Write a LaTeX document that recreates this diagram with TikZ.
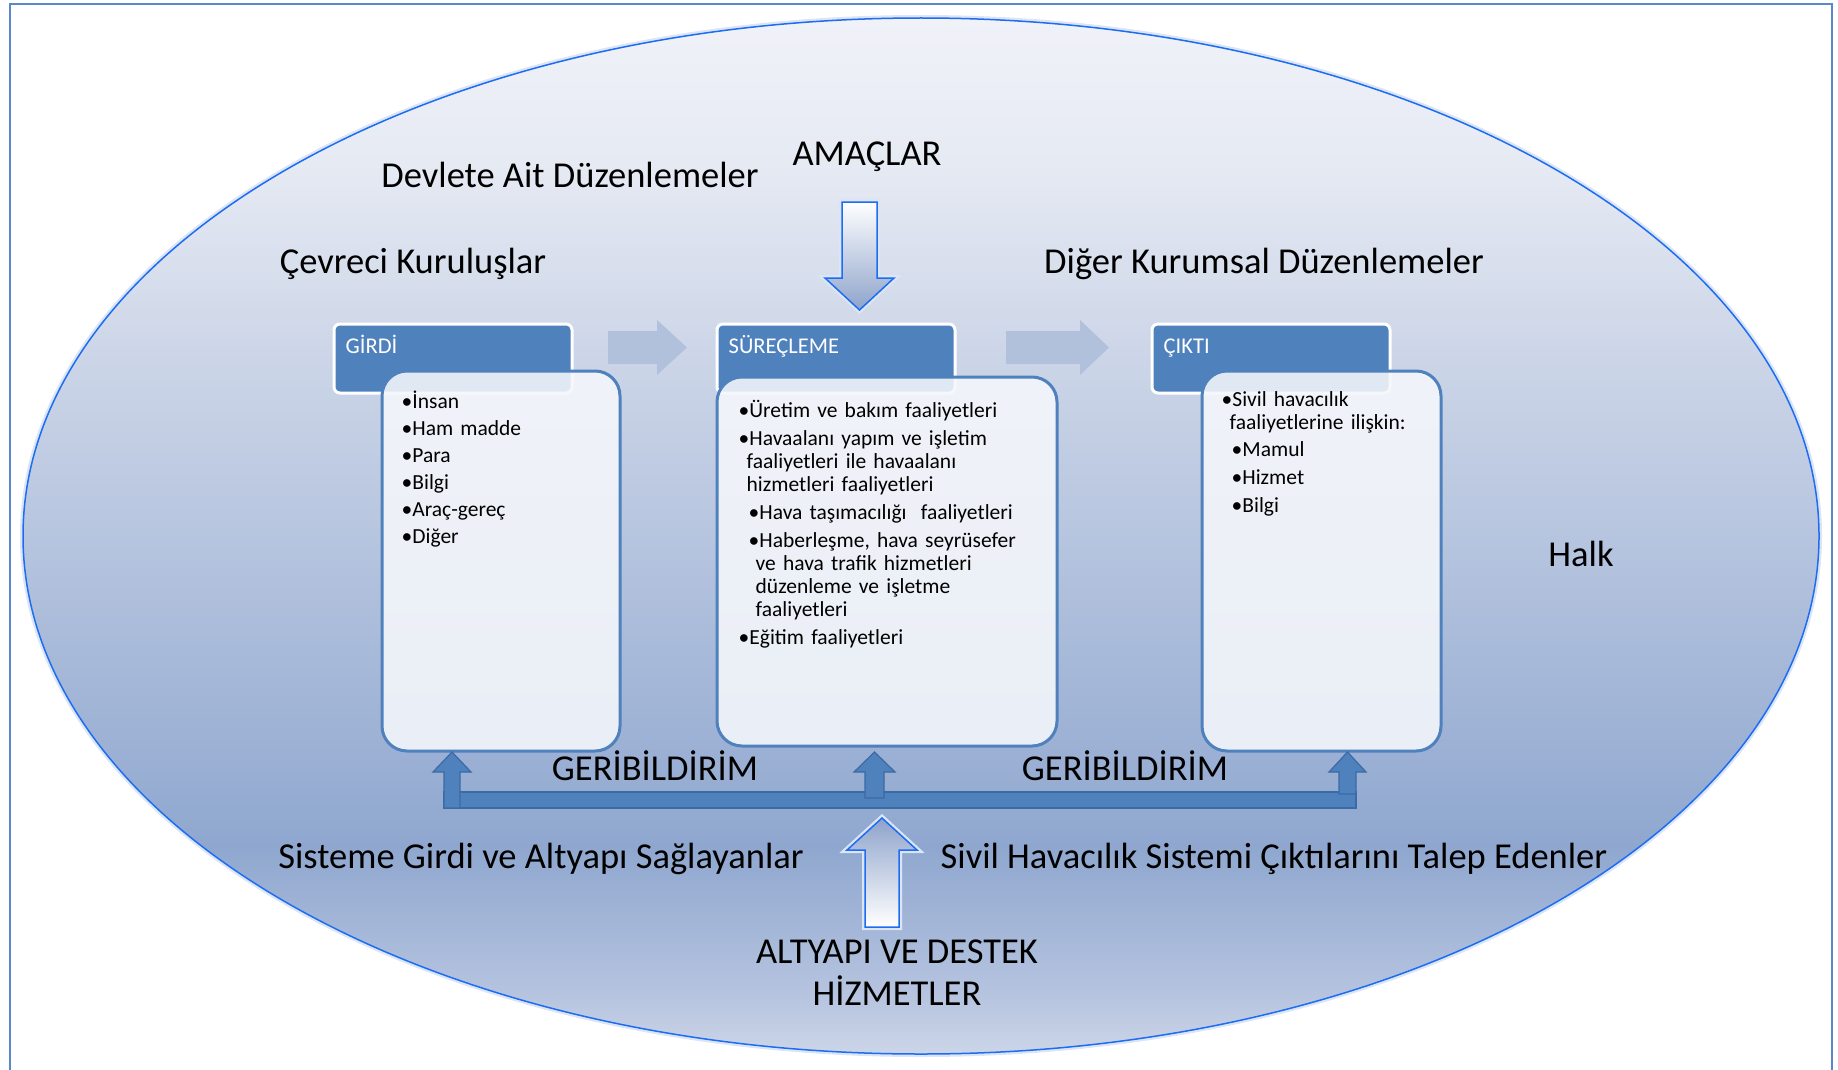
\documentclass[tikz,border=0pt]{standalone}
\usepackage{fontspec}
\setmainfont{Carlito}
\usetikzlibrary{positioning}

\definecolor{headblue}{HTML}{4F81BD}
\definecolor{bodyfill}{HTML}{F5F7FB}
\definecolor{frameblue}{HTML}{5A88C8}
\definecolor{ovalline}{HTML}{1C6DF2}
\definecolor{ovalglow}{HTML}{DCE5F5}
\definecolor{greyarrow}{HTML}{B1C1DC}
\definecolor{fbborder}{HTML}{3C6AA5}
\definecolor{goaldark}{HTML}{8EA3CB}
\definecolor{ovtop}{HTML}{F0F2F8}
\definecolor{ovhigh}{HTML}{E6EAF3}
\definecolor{ovupper}{HTML}{CDD6E8}
\definecolor{ovmid}{HTML}{B4C3DE}
\definecolor{ovlow}{HTML}{8FA7CF}
\definecolor{ovlower}{HTML}{B5C3DF}
\definecolor{ovbot}{HTML}{CCD5E8}
\pgfdeclareverticalshading{ovalshade}{100bp}{color(0bp)=(ovbot); color(25bp)=(ovbot); color(28bp)=(ovlower); color(35bp)=(ovlow); color(49bp)=(ovmid); color(59bp)=(ovupper); color(68bp)=(ovhigh); color(75bp)=(ovtop); color(100bp)=(ovtop)}

\begin{document}
\begin{tikzpicture}[x=1pt, y=-1pt,
  headbox/.style = {draw=white, line width=3pt, fill=headblue, rounded corners=6pt, minimum width=238pt, minimum height=69pt},
  bodybox/.style = {draw=headblue, line width=3pt, fill=bodyfill, fill opacity=0.88, rounded corners=25pt, anchor=north west},
  headtext/.style = {text=white, anchor=base west, inner sep=0pt, font=\fontsize{22.5}{26}\selectfont},
  listtext/.style = {anchor=north west, align=left, inner sep=0pt, font=\fontsize{21.5}{23}\selectfont},
  bigtext/.style = {anchor=base, inner sep=0pt, font=\fontsize{36.5}{42}\selectfont},
  greyarrow/.style = {fill=greyarrow},
  fbarrow/.style = {fill=headblue, draw=fbborder, line width=1.2pt},
  goalarrow/.style = {draw=ovalline, line width=1.5pt},
  glow/.style = {draw=ovalglow, line width=6pt}]
\useasboundingbox (0,0) rectangle (1838,1070);
\draw[frameblue, line width=2.5pt] (10,1075) -- (10,4) -- (1832,4) -- (1832,1075);
\draw[glow] (921,536) ellipse [x radius=898, y radius=518];
\draw[ovalline, line width=1.5pt, shading=ovalshade] (921,536) ellipse [x radius=898, y radius=518];

\node[bigtext] (devlet) at (570,187) {Devlete Ait Düzenlemeler};
\node[bigtext] (amaclar) at (867,165) {AMAÇLAR};
\node[bigtext] (cevreci) at (413,273) {Çevreci Kuruluşlar};
\node[bigtext] (diger) at (1264,273) {Diğer Kurumsal Düzenlemeler};
\node[bigtext] (halk) at (1581,566) {Halk};
\node[bigtext] (geri1) at (655,780) {GERİBİLDİRİM};
\node[bigtext] (geri2) at (1125,780) {GERİBİLDİRİM};
\node[bigtext] (saglayan) at (541,868) {Sisteme Girdi ve Altyapı Sağlayanlar};
\node[bigtext] (talep) at (1274,868) {Sivil Havacılık Sistemi Çıktılarını Talep Edenler};
\node[bigtext, align=center, anchor=north] (altyapi) at (897,940) {ALTYAPI VE DESTEK\\HİZMETLER};

\draw[glow] (842,202) -- (877,202) -- (877,278) -- (894,278) -- (859.5,310) -- (825,278) -- (842,278) -- cycle;
\draw[goalarrow, top color=white, bottom color=goaldark] (842,202) -- (877,202) -- (877,278) -- (894,278) -- (859.5,310) -- (825,278) -- (842,278) -- cycle;
\draw[glow] (865,927) -- (865,850) -- (847,850) -- (882,818) -- (917,850) -- (899,850) -- (899,927) -- cycle;
\draw[goalarrow, top color=goaldark, bottom color=white] (865,927) -- (865,850) -- (847,850) -- (882,818) -- (917,850) -- (899,850) -- (899,927) -- cycle;

\fill[greyarrow] (608,331) -- (657,331) -- (657,320) -- (687,347.5) -- (657,375) -- (657,364) -- (608,364) -- cycle;
\fill[greyarrow] (1006,331) -- (1080,331) -- (1080,320) -- (1109,347.5) -- (1080,375) -- (1080,364) -- (1006,364) -- cycle;

\node[headbox] (girdi head) at (453,358.5) {};
\node[headbox] (surec head) [right=142pt of girdi head] {};
\node[headbox] (cikti head) [right=194pt of surec head] {};
\node[headtext] (girdi title) at ([shift={(13,31)}]girdi head.north west) {GİRDİ};
\node[headtext] (surec title) at ([shift={(13,31)}]surec head.north west) {SÜREÇLEME};
\node[headtext] (cikti title) at ([shift={(13,31)}]cikti head.north west) {ÇIKTI};

\node[bodybox, minimum width=238pt, minimum height=380pt] (girdi body) at ([shift={(48,47)}]girdi head.north west) {};
\node[bodybox, minimum width=340pt, minimum height=369pt] (surec body) at ([shift={(0,53)}]surec head.north west) {};
\node[bodybox, minimum width=239pt, minimum height=380pt] (cikti body) at ([shift={(50,47)}]cikti head.north west) {};

\node[listtext, text width=200pt, font=\fontsize{21.5}{27}\selectfont] (girdi list) at ([shift={(21,21)}]girdi body.north west) {•İnsan\\ •Ham madde\\ •Para\\ •Bilgi\\ •Araç-gereç\\ •Diğer};
\node[listtext, text width=315pt] (surec list) at ([shift={(23,25)}]surec body.north west) {•Üretim ve bakım faaliyetleri\\[5pt]
  •Havaalanı yapım ve işletim\\
  \hspace*{8pt}faaliyetleri ile havaalanı\\
  \hspace*{8pt}hizmetleri faaliyetleri\\[5pt]
  \hspace*{10pt}•Hava taşımacılığı\ \ faaliyetleri\\[5pt]
  \hspace*{10pt}•Haberleşme, hava seyrüsefer\\
  \hspace*{17pt}ve hava trafik hizmetleri\\
  \hspace*{17pt}düzenleme ve işletme\\
  \hspace*{17pt}faaliyetleri\\[5pt]
  •Eğitim faaliyetleri};
\node[listtext, text width=215pt] (cikti list) at ([shift={(21,22)}]cikti body.north west) {•Sivil havacılık\\
  \hspace*{8pt}faaliyetlerine ilişkin:\\[4pt]
  \hspace*{10pt}•Mamul\\[5pt]
  \hspace*{10pt}•Hizmet\\[5pt]
  \hspace*{10pt}•Bilgi};

\draw[fbarrow] (444,792) rectangle (1356,808);
\draw[fbarrow] (444,808) -- (444,772) -- (433,772) -- (452,752) -- (471,772) -- (460,772) -- (460,808) -- cycle;
\draw[fbarrow] (865,798) -- (865,772) -- (854,772) -- (874.5,752) -- (895,772) -- (884,772) -- (884,798) -- cycle;
\draw[fbarrow] (1339,794) -- (1339,772) -- (1329,772) -- (1347.5,752) -- (1366,772) -- (1356,772) -- (1356,794) -- cycle;
\end{tikzpicture}
\end{document}
